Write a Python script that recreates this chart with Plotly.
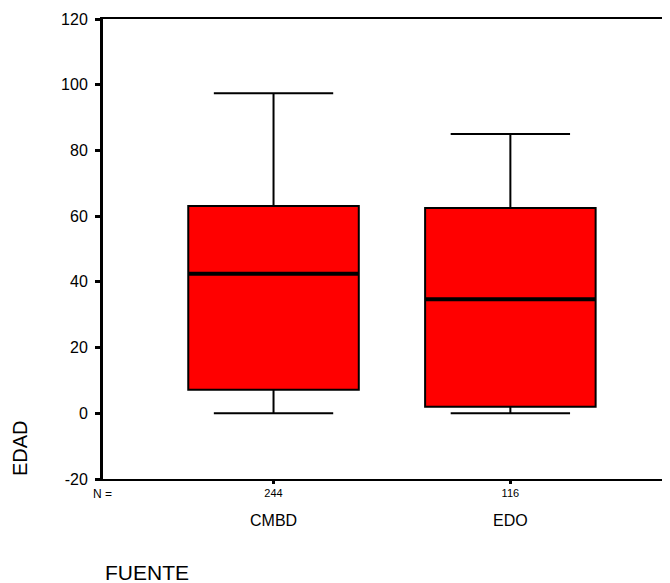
import plotly.graph_objects as go

categories = ["CMBD", "EDO"]
n_counts = ["244", "116"]
lower_fence = [0, 0]
q1_vals = [7.2, 2.0]
median_vals = [42.5, 34.7]
q3_vals = [63.1, 62.5]
upper_fence = [97.4, 85.0]
y_ticks = [-20, 0, 20, 40, 60, 80, 100, 120]
y_tick_labels = ["-20", "0", "20", "40", "60", "80", "100", "120"]

FONT = "Liberation Sans, Arial, sans-serif"
BOX_W = 0.72

# page offset of the figure (browser body margin)
OFF = 8
PLOT_L, PLOT_R, PLOT_T, PLOT_B = 102.5, 670, 19, 479
PW = PLOT_R - PLOT_L
PH = PLOT_B - PLOT_T


def px(xp):
    return (xp - PLOT_L) / PW


def py(yp):
    return (PLOT_B - yp) / PH


fig = go.Figure()
fig.add_trace(go.Box(
    x=list(range(len(categories))),
    q1=q1_vals, median=median_vals, q3=q3_vals,
    lowerfence=lower_fence, upperfence=upper_fence,
    width=BOX_W, whiskerwidth=0.7,
    fillcolor="#ff0000", line=dict(color="black", width=2),
    boxpoints=False, showlegend=False, hoverinfo="skip",
))

# thicker median lines
for i, m in enumerate(median_vals):
    fig.add_shape(type="line", xref="x", yref="y",
                  x0=i - BOX_W / 2, x1=i + BOX_W / 2, y0=m, y1=m,
                  line=dict(color="black", width=4))

for i, c in enumerate(categories):
    fig.add_annotation(text=c, x=i, xref="x", y=py(520), yref="paper",
                       showarrow=False, font=dict(family=FONT, size=16, color="black"),
                       xanchor="center", yanchor="middle")

fig.add_annotation(text="N =", x=px(102), xref="paper", y=py(494), yref="paper",
                   showarrow=False, font=dict(family=FONT, size=12, color="black"),
                   xanchor="center", yanchor="middle")
fig.add_annotation(text="FUENTE", x=px(102), xref="paper", y=py(572), yref="paper",
                   showarrow=False, font=dict(family=FONT, size=21, color="black"),
                   xanchor="left", yanchor="middle")
fig.add_annotation(text="EDAD", x=px(19.5), xref="paper", y=py(448), yref="paper",
                   showarrow=False, textangle=-90,
                   font=dict(family=FONT, size=20, color="black"),
                   xanchor="center", yanchor="middle")

fig.update_layout(
    width=670 - OFF, height=583 - OFF,
    margin=dict(l=PLOT_L - OFF, r=0, t=PLOT_T - OFF, b=583 - PLOT_B, pad=0,
                autoexpand=False),
    paper_bgcolor="white", plot_bgcolor="white",
    font=dict(family=FONT, color="black"),
    xaxis=dict(
        range=[-0.72, 1.674], tickmode="array",
        tickvals=list(range(len(categories))), ticktext=n_counts,
        ticks="outside", ticklen=3, tickwidth=3, tickcolor="black",
        showline=True, linecolor="black", linewidth=2, mirror=True,
        showgrid=False, zeroline=False, automargin=False,
        tickfont=dict(family=FONT, size=11, color="black"),
    ),
    yaxis=dict(
        range=[-20, 120], tickmode="array", tickvals=y_ticks,
        ticktext=y_tick_labels,
        ticks="outside", ticklen=5, tickwidth=3, tickcolor="black",
        showline=True, linecolor="black", linewidth=3,
        showgrid=False, zeroline=False, ticklabelstandoff=4, automargin=False,
        tickfont=dict(family=FONT, size=16, color="black"),
    ),
)

fig.write_html("out.html")
